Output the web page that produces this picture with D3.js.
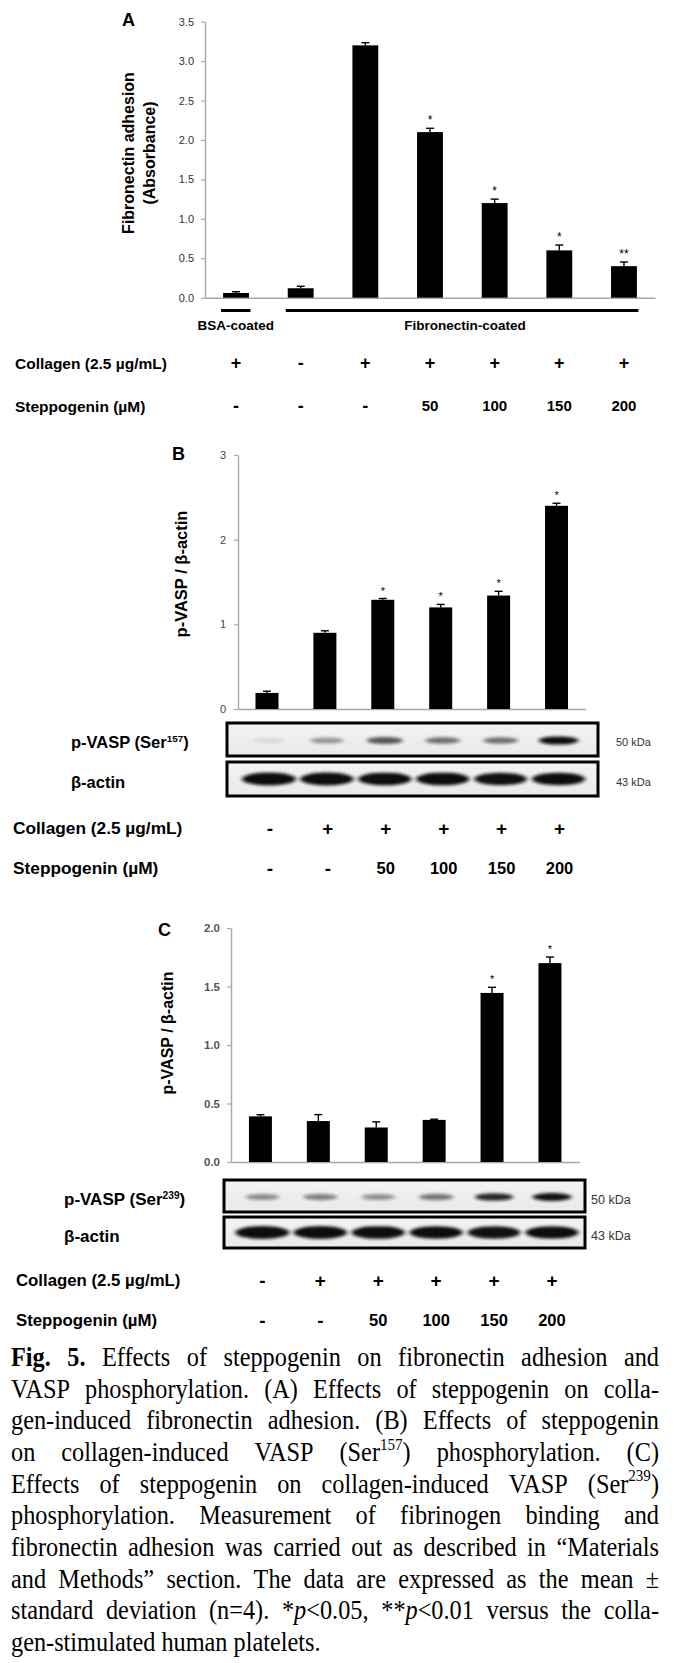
<!DOCTYPE html>
<html><head><meta charset="utf-8">
<script src="https://cdn.jsdelivr.net/npm/d3@7"></script>
<style>body{margin:0;background:#fff} svg{display:block}</style>
</head><body><svg id="fig" width="680" height="1663"></svg>
<script>
// ---------- Panel A data ----------
const collagenA = ["+","-","+","+","+","+","+"];
const steppogeninA = ["-","-","-","50","100","150","200"];
const valuesA = [0.06,0.12,3.20,2.10,1.20,0.60,0.40];
const errorsA = [0.016,0.025,0.034,0.048,0.05,0.068,0.053];
const signifA = ["","","","*","*","*","**"];
const ticksA = [0,0.5,1,1.5,2,2.5,3,3.5];
const coatingLabels = ["BSA-coated","Fibronectin-coated"];
const coatingFirst = [0,1];
const coatingLast = [0,6];

// ---------- Panel B data ----------
const collagenB = ["-","+","+","+","+","+"];
const steppogeninB = ["-","-","50","100","150","200"];
const valuesB = [0.19,0.90,1.29,1.20,1.34,2.40];
const errorsB = [0.02,0.024,0.015,0.035,0.05,0.03];
const signifB = ["","","*","*","*","*"];
const ticksB = [0,1,2,3];
const bandsB_pVASP = [0.02,0.3,0.6,0.48,0.48,0.95];
const bandsB_actin = [1,0.97,0.95,0.95,0.9,0.93];

// ---------- Panel C data ----------
const collagenC = ["-","+","+","+","+","+"];
const steppogeninC = ["-","-","50","100","150","200"];
const valuesC = [0.39,0.35,0.295,0.36,1.445,1.70];
const errorsC = [0.014,0.055,0.048,0.006,0.048,0.052];
const signifC = ["","","","","*","*"];
const ticksC = [0,0.5,1,1.5,2];
const bandsC_pVASP = [0.35,0.4,0.33,0.45,0.8,0.9];
const bandsC_actin = [1,0.97,0.95,0.93,0.9,0.92];

// ---------- Caption ----------
const captionLines = [
 "<b>Fig.</b> <b>5.</b> Effects of steppogenin on fibronectin adhesion and",
 "VASP phosphorylation. (A) Effects of steppogenin on colla-",
 "gen-induced fibronectin adhesion. (B) Effects of steppogenin",
 "on collagen-induced VASP (Ser<sup>157</sup>) phosphorylation. (C)",
 "Effects of steppogenin on collagen-induced VASP (Ser<sup>239</sup>)",
 "phosphorylation. Measurement of fibrinogen binding and",
 "fibronectin adhesion was carried out as described in \u201cMaterials",
 "and Methods\u201d section. The data are expressed as the mean \u00b1",
 "standard deviation (n=4). *<i>p</i>&lt;0.05, **<i>p</i>&lt;0.01 versus the colla-",
 "gen-stimulated human platelets."
];

const SANS = "'Liberation Sans', Arial, Helvetica, sans-serif";
const SERIF = "'Liberation Serif', 'Times New Roman', serif";
const svg = d3.select("#fig");
svg.append("rect").attr("width",680).attr("height",1663).attr("fill","#fff");

const defs = svg.append("defs");
defs.append("filter").attr("id","blur").attr("x","-50%").attr("y","-100%").attr("width","200%").attr("height","300%")
  .append("feGaussianBlur").attr("stdDeviation","2.2 1.6");
const grad = defs.append("linearGradient").attr("id","blotbg").attr("x1",0).attr("x2",0).attr("y1",0).attr("y2",1);
grad.append("stop").attr("offset","0").attr("stop-color","#f3f3f3");
grad.append("stop").attr("offset","1").attr("stop-color","#e9e9e9");

function text(g, x, y, str, o={}) {
  return g.append("text").attr("x",x).attr("y",y).text(str)
    .attr("font-family", o.family||SANS).attr("font-size", o.size||14)
    .attr("font-weight", o.weight||"normal").attr("fill", o.fill||"#000")
    .attr("text-anchor", o.anchor||"start");
}

function barPanel(cfg) {
  const g = svg.append("g");
  const n = cfg.values.length;
  const x = d3.scaleBand().domain(d3.range(n)).range(cfg.xr).paddingInner(cfg.pi).paddingOuter(cfg.po);
  const y = d3.scaleLinear().domain(cfg.yd).range(cfg.yr);
  const ya = g.append("g").attr("transform",`translate(${cfg.xr[0]},0)`)
    .call(d3.axisLeft(y).tickValues(cfg.ticks).tickFormat(d3.format(cfg.fmt)).tickSize(4).tickSizeOuter(0).tickPadding(cfg.tp));
  ya.select(".domain").attr("stroke","#a8a8a8").attr("stroke-width",1.4);
  ya.selectAll(".tick line").attr("stroke","#a8a8a8").attr("stroke-width",1.2);
  ya.selectAll(".tick text").attr("font-family",SANS).attr("font-size",cfg.tickSize)
    .attr("font-weight",cfg.tickWeight).attr("fill",cfg.tickFill);
  const xa = g.append("g").attr("transform",`translate(0,${y(0)})`)
    .call(d3.axisBottom(x).tickSize(0).tickFormat(""));
  xa.select(".domain").attr("stroke","#a8a8a8").attr("stroke-width",1.4);
  g.selectAll("rect.bar").data(cfg.values).join("rect").attr("class","bar")
    .attr("x",(d,i)=>x(i)).attr("width",x.bandwidth())
    .attr("y",d=>y(d)).attr("height",d=>y(0)-y(d)).attr("fill","#000");
  cfg.values.forEach((v,i)=>{
    const cx = x(i)+x.bandwidth()/2, top = y(v+cfg.errors[i]);
    g.append("line").attr("x1",cx).attr("x2",cx).attr("y1",y(v)).attr("y2",top).attr("stroke","#000").attr("stroke-width",1.4);
    g.append("line").attr("x1",cx-4).attr("x2",cx+4).attr("y1",top).attr("y2",top).attr("stroke","#000").attr("stroke-width",1.4);
    if (cfg.sig[i]) text(g, cx, top-4, cfg.sig[i], {size:cfg.sigSize, anchor:"middle"});
  });
  text(g, cfg.letter[1], cfg.letter[2], cfg.letter[0], {size:18, weight:"bold"});
  cfg.title.forEach((t,k)=>{
    g.append("text").attr("transform",`translate(${cfg.titleX[k]},${cfg.titleY}) rotate(-90)`)
      .attr("text-anchor","middle").attr("dominant-baseline","central")
      .attr("font-family",SANS).attr("font-weight","bold").attr("font-size",cfg.titleSize).text(t);
  });
  return {x, y, g};
}

function rows(g, x, cfg) {
  const rowsData = [[cfg.label1, cfg.collagen, cfg.y1],[cfg.label2, cfg.stepp, cfg.y2]];
  rowsData.forEach(([lab, arr, yy])=>{
    text(g, cfg.lx, yy + cfg.ls*0.36, lab, {size:cfg.ls, weight:"bold"});
    arr.forEach((s,i)=>{
      const cx = x(i)+x.bandwidth()/2 + (cfg.dx||0);
      const isSign = (s==="+"||s==="-");
      const fs = isSign ? cfg.ss : cfg.ns;
      text(g, cx, yy + fs*0.36, s, {size:fs, weight:"bold", anchor:"middle"});
    });
  });
}

function blot(g, x, cfg) {
  const boxes = [[cfg.y1, cfg.h1, cfg.bands1, cfg.lab1, cfg.kda1, cfg.rx1, cfg.ry1],
                 [cfg.y2, cfg.h2, cfg.bands2, cfg.lab2, cfg.kda2, cfg.rx2, cfg.ry2]];
  boxes.forEach(([by, bh, bands, lab, kda, rx, ry], k)=>{
    const id = "clip"+cfg.id+k;
    defs.append("clipPath").attr("id",id).append("rect").attr("x",cfg.bx).attr("y",by).attr("width",cfg.bw).attr("height",bh);
    g.append("rect").attr("x",cfg.bx).attr("y",by).attr("width",cfg.bw).attr("height",bh).attr("fill","url(#blotbg)");
    const bg = g.append("g").attr("clip-path",`url(#${id})`);
    bands.forEach((v,i)=>{
      const cx = x(i)+x.bandwidth()/2 + (cfg.dx||0);
      bg.append("ellipse").attr("cx",cx).attr("cy",by+bh/2+ (k===0?1:0)).attr("rx",rx*(0.75+0.25*v)).attr("ry",ry*(0.6+0.4*v))
        .attr("fill","#111").attr("opacity",Math.min(1,0.08+v)).attr("filter","url(#blur)");
    });
    g.append("rect").attr("x",cfg.bx).attr("y",by).attr("width",cfg.bw).attr("height",bh)
      .attr("fill","none").attr("stroke","#000").attr("stroke-width",3);
    const t = g.append("text").attr("x",cfg.labx).attr("y",by+bh/2+cfg.ls*0.36+3)
      .attr("font-family",SANS).attr("font-weight","bold").attr("font-size",cfg.ls);
    lab.forEach(seg=>{
      const ts = t.append("tspan").text(seg.t);
      if (seg.sup) ts.attr("font-size",cfg.ls*0.6).attr("dy",-cfg.ls*0.38);
      else if (seg.after) ts.attr("dy",cfg.ls*0.38);
    });
    text(g, cfg.kx, by+bh/2+cfg.ks*0.36+3, kda, {size:cfg.ks, fill:"#333"});
  });
}

// ---------- Panel A ----------
const A = barPanel({values:valuesA, errors:errorsA, sig:signifA, xr:[205,655], pi:0.6, po:0.28,
  yd:[0,3.5], yr:[297.7,21.7], ticks:ticksA, fmt:".1f", tp:7, tickSize:11, tickWeight:"normal", tickFill:"#333",
  sigSize:12, letter:["A",122,25.5], title:["Fibronectin adhesion","(Absorbance)"], titleX:[128,149], titleY:153, titleSize:16});
coatingLabels.forEach((lab,k)=>{
  const x0 = A.x(coatingFirst[k]) - 2, x1 = A.x(coatingLast[k]) + A.x.bandwidth() + 1.5;
  A.g.append("line").attr("x1",x0).attr("x2",x1).attr("y1",310.5).attr("y2",310.5).attr("stroke","#000").attr("stroke-width",3);
  text(A.g, (x0+x1)/2 + (k===1?3:0), 330, lab, {size:13.5, weight:"bold", anchor:"middle"});
});
rows(A.g, A.x, {label1:"Collagen (2.5 \u00b5g/mL)", label2:"Steppogenin (\u00b5M)", collagen:collagenA, stepp:steppogeninA,
  y1:363, y2:406, lx:15, ls:15.5, ss:18, ns:15});

// ---------- Panel B ----------
const B = barPanel({values:valuesB, errors:errorsB, sig:signifB, xr:[238,585.5], pi:0.603, po:0.302,
  yd:[0,3], yr:[709,455], ticks:ticksB, fmt:"d", tp:8, tickSize:11, tickWeight:"normal", tickFill:"#444",
  sigSize:11, letter:["B",172,459.5], title:["p-VASP / \u03b2-actin"], titleX:[181], titleY:574, titleSize:16.5});
blot(B.g, B.x, {id:"B", bx:227, bw:371, y1:723, h1:33, y2:762, h2:34, dx:2,
  bands1:bandsB_pVASP, bands2:bandsB_actin, rx1:20, ry1:4.2, rx2:27, ry2:6.5,
  lab1:[{t:"p-VASP (Ser"},{t:"157",sup:true},{t:")",after:true}], lab2:[{t:"\u03b2-actin"}],
  kda1:"50 kDa", kda2:"43 kDa", labx:71, ls:16.5, kx:616, ks:11});
rows(B.g, B.x, {label1:"Collagen (2.5 \u00b5g/mL)", label2:"Steppogenin (\u00b5M)", collagen:collagenB, stepp:steppogeninB,
  y1:828, y2:868, lx:13, ls:17.3, ss:19, ns:16.5, dx:3});

// ---------- Panel C ----------
const C = barPanel({values:valuesC, errors:errorsC, sig:signifC, xr:[231,579.4], pi:0.603, po:0.31,
  yd:[0,2], yr:[1162,928], ticks:ticksC, fmt:".1f", tp:7, tickSize:11.5, tickWeight:"bold", tickFill:"#555",
  sigSize:11, letter:["C",158,935.5], title:["p-VASP / \u03b2-actin"], titleX:[167], titleY:1033, titleSize:16});
blot(C.g, C.x, {id:"C", bx:224, bw:361, y1:1180, h1:32, y2:1217, h2:31, dx:2,
  bands1:bandsC_pVASP, bands2:bandsC_actin, rx1:20, ry1:4.2, rx2:27, ry2:6.5,
  lab1:[{t:"p-VASP (Ser"},{t:"239",sup:true},{t:")",after:true}], lab2:[{t:"\u03b2-actin"}],
  kda1:"50 kDa", kda2:"43 kDa", labx:64, ls:17, kx:591, ks:12.5});
rows(C.g, C.x, {label1:"Collagen (2.5 \u00b5g/mL)", label2:"Steppogenin (\u00b5M)", collagen:collagenC, stepp:steppogeninC,
  y1:1280, y2:1320, lx:16, ls:16.8, ss:19, ns:16.5, dx:2});

// ---------- Caption (justified, slightly condensed) ----------
function parseWord(w){
  const parts = w.replace(/&lt;/g,"<LT>").split(/(<\/?(?:b|i|sup)>)/).filter(s=>s.length);
  const st = {b:false,i:false,sup:false}; const segs=[];
  parts.forEach(p=>{
    const m = p.match(/^<(\/?)(b|i|sup)>$/);
    if (m) st[m[2]] = !m[1];
    else segs.push({t:p.replace(/<LT>/g,"<"), b:st.b, i:st.i, sup:st.sup});
  });
  return segs;
}
const capScale = 0.9, capX0 = 11, capW = 648, capY0 = 1366, capLH = 31.65, capFS = 27;
const capG = svg.append("g").attr("transform",`translate(${capX0},0) scale(${capScale},1)`);
const localW = capW / capScale;
captionLines.forEach((line, li)=>{
  const words = line.split(" ").map(parseWord);
  const y = capY0 + li*capLH;
  const nodes = words.map(segs=>{
    const t = capG.append("text").attr("y",y).attr("font-family",SERIF).attr("font-size",capFS).attr("fill","#000");
    let up = false;
    segs.forEach(s=>{
      const ts = t.append("tspan").text(s.t);
      if (s.b) ts.attr("font-weight","bold");
      if (s.i) ts.attr("font-style","italic");
      if (s.sup) { ts.attr("font-size",capFS*0.62).attr("dy",-capFS*0.42); up = true; }
      else if (up) { ts.attr("dy",capFS*0.42); up = false; }
    });
    return t;
  });
  const widths = nodes.map(t=>t.node().getComputedTextLength());
  const total = d3.sum(widths);
  const last = li === captionLines.length-1;
  const gap = last ? capFS*0.25 : (localW - total)/(nodes.length-1);
  let xx = 0;
  nodes.forEach((t,k)=>{ t.attr("x",xx); xx += widths[k] + gap; });
});
</script></body></html>
